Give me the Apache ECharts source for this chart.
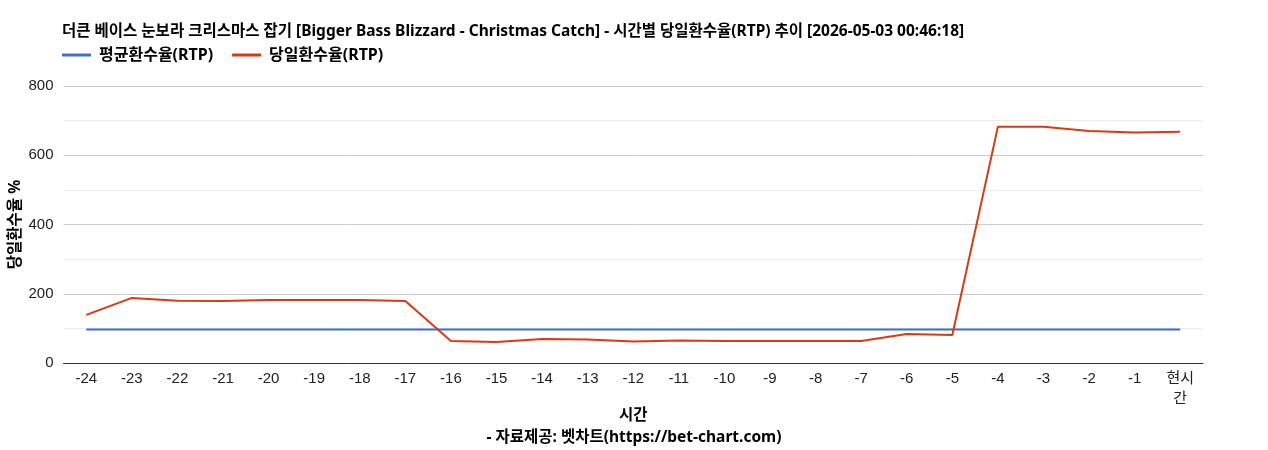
<!DOCTYPE html>
<html><head><meta charset="utf-8">
<script src="https://cdn.jsdelivr.net/npm/echarts@6/dist/echarts.min.js"></script>
<style>html,body{margin:0;padding:0;background:#fff}#c{width:1268px;height:450px}</style>
</head><body><div id="c"></div>
<script>
const categories = ['-24','-23','-22','-21','-20','-19','-18','-17','-16','-15','-14','-13','-12','-11','-10','-9','-8','-7','-6','-5','-4','-3','-2','-1','현시간'];
const avgRtp = [96.5,96.5,96.5,96.5,96.5,96.5,96.5,96.5,96.5,96.5,96.5,96.5,96.5,96.5,96.5,96.5,96.5,96.5,96.5,96.5,96.5,96.5,96.5,96.5,96.5];
const dayRtp = [139,188,180,179,182,182,182,179,63.5,61,69,68,62,65,63.5,63.5,63.5,63.5,84,81,682,682,670,666,668];
const yTicks = [0,200,400,600,800];

const FONT = '"Noto Sans", "Noto Sans CJK KR", sans-serif';
const NUMFONT = '"Liberation Sans", Arial, "Noto Sans CJK KR", sans-serif';
const chart = echarts.init(document.getElementById('c'));
chart.setOption({
  animation: false,
  textStyle: { fontFamily: FONT },
  title: {
    text: '더큰 베이스 눈보라 크리스마스 잡기 [Bigger Bass Blizzard - Christmas Catch] - 시간별 당일환수율(RTP) 추이 [2026-05-03 00:46:18]',
    left: 57, top: 19,
    textStyle: { fontSize: 15.5, fontWeight: 'bold', color: '#000', fontFamily: FONT }
  },
  legend: {
    left: 57, top: 42, itemWidth: 29, itemHeight: 3, itemGap: 19,
    icon: 'rect',
    textStyle: { fontSize: 16, fontWeight: 'bold', color: '#000', fontFamily: FONT, padding: [0,0,0,3] },
    data: ['평균환수율(RTP)', '당일환수율(RTP)']
  },
  grid: { left: 63, right: 65, top: 86, bottom: 87, containLabel: false },
  xAxis: {
    type: 'category', data: categories, boundaryGap: true,
    name: '시간', nameLocation: 'middle', nameGap: 45, nameMoveOverlap: false,
    nameTextStyle: { fontSize: 15.5, fontWeight: 'bold', color: '#000', fontFamily: FONT },
    axisLine: { lineStyle: { color: '#333', width: 1 } },
    axisTick: { show: false },
    axisLabel: { fontSize: 15, color: '#222', margin: 6, interval: 0, fontFamily: NUMFONT,
      formatter: v => v === '현시간' ? '현시\n간' : v, lineHeight: 20 }
  },
  yAxis: {
    type: 'value', min: 0, max: 800, interval: 200,
    name: '당일환수율 %', nameLocation: 'middle', nameGap: 40, nameRotate: 90, nameMoveOverlap: false,
    nameTextStyle: { fontSize: 15.5, fontWeight: 'bold', color: '#000', fontFamily: FONT },
    axisLine: { show: false }, axisTick: { show: false },
    axisLabel: { fontSize: 15, color: '#222', margin: 10, fontFamily: NUMFONT,
      formatter: v => yTicks.includes(v) ? String(v) : '' },
    splitLine: { lineStyle: { color: '#ccc' } },
    minorTick: { show: false, splitNumber: 2 },
    minorSplitLine: { show: true, lineStyle: { color: '#ebebeb' } }
  },
  graphic: [{
    type: 'text', left: 'center', top: 430,
    style: { text: '- 자료제공: 벳차트(https://bet-chart.com)', fill: '#000', font: 'bold 15.5px ' + FONT }
  }],
  series: [
    { name: '평균환수율(RTP)', type: 'line', data: avgRtp, showSymbol: false, symbol: 'none',
      lineStyle: { color: '#3c6fd1', width: 2 }, itemStyle: { color: '#3c6fd1' } },
    { name: '당일환수율(RTP)', type: 'line', data: dayRtp, showSymbol: false, symbol: 'none',
      lineStyle: { color: '#dc3912', width: 2 }, itemStyle: { color: '#dc3912' } }
  ]
});
</script></body></html>
